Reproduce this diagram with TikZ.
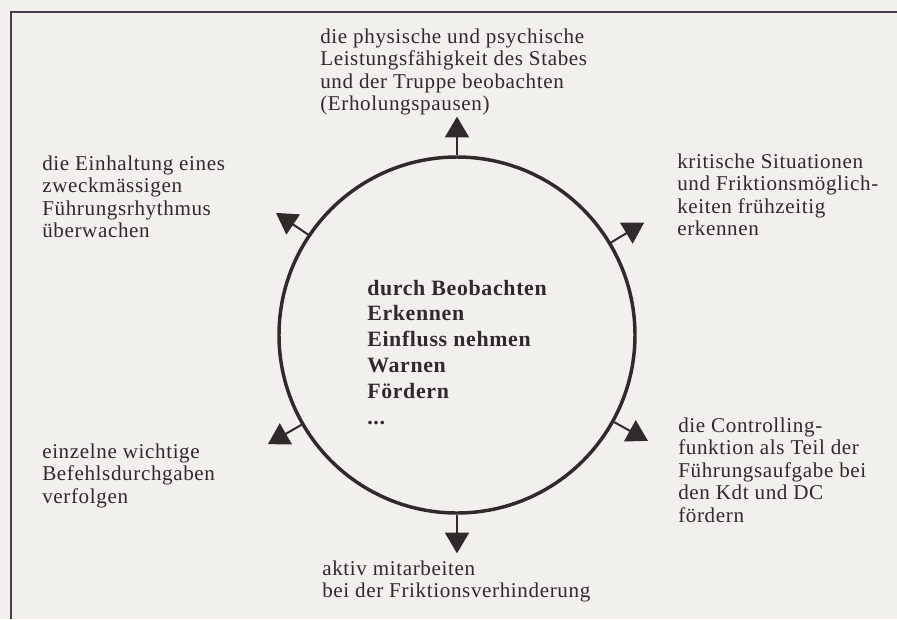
\documentclass[tikz,border=0pt]{standalone}
\usepackage{fontspec}
\setmainfont{Liberation Serif}[LetterSpace=3]
\usetikzlibrary{arrows.meta,calc}
\definecolor{bg}{RGB}{241,240,237}
\definecolor{ink}{RGB}{48,42,42}
\definecolor{frm}{RGB}{70,62,75}
\newcommand\blk[1]{\begin{tabular}[t]{@{}l@{}}#1\end{tabular}}
\begin{document}
\begin{tikzpicture}[x=0.75pt,y=-0.75pt,
  lbl/.style={anchor=base west, inner sep=0pt, text=ink, font=\fontsize{15.8}{16.9}\selectfont},
  ctr/.style={anchor=base west, inner sep=0pt, text=ink, font=\fontsize{16.4}{19.35}\selectfont\bfseries},
  ring/.style={circle, draw=ink, line width=2.6pt, minimum size=267pt, inner sep=0pt},
  ray/.style={draw=ink, line width=1.5pt, -{Triangle[length=15.6pt,width=18pt]}},
  frame/.style={draw=frm, line width=1.5pt}]
\fill[bg] (0,0) rectangle (897,619);
\useasboundingbox (0,0) rectangle (897,619);
\draw[frame] (897,12) -- (11,12) -- (11,619);

\node[ring] (c) at (457,335) {};

\foreach \a/\n in {90/t, 146/ul, 31/ur, -29/lr, -150/ll, -90/b}{
  \coordinate (\n tip) at ($(c.center)!1.215!(c.\a)$);
  \draw[ray] (c.\a) -- (\n tip);
}

\node[lbl] (top) at (320,43) {\blk{die physische und psychische\\ Leistungsfähigkeit des Stabes\\ und der Truppe beobachten\\ (Erholungspausen)}};
\node[lbl] (ultext) at (42,170) {\blk{die Einhaltung eines\\ zweckmässigen\\ Führungsrhythmus\\ überwachen}};
\node[lbl] (urtext) at (677,168) {\blk{kritische Situationen\\ und Friktionsmöglich-\\ keiten frühzeitig\\ erkennen}};
\node[lbl] (lltext) at (42,458) {\blk{einzelne wichtige\\ Befehlsdurchgaben\\ verfolgen}};
\node[lbl] (lrtext) at (678,432) {\blk{die Controlling-\\ funktion als Teil der\\ Führungsaufgabe bei\\ den Kdt und DC\\ fördern}};
\node[lbl] (btext) at (322,575) {\blk{aktiv mitarbeiten\\ bei der Friktionsverhinderung}};
\node[ctr] (mid) at (367,295) {\blk{durch Beobachten\\ Erkennen\\ Einfluss nehmen\\ Warnen\\ Fördern\\ ...}};
\end{tikzpicture}
\end{document}
